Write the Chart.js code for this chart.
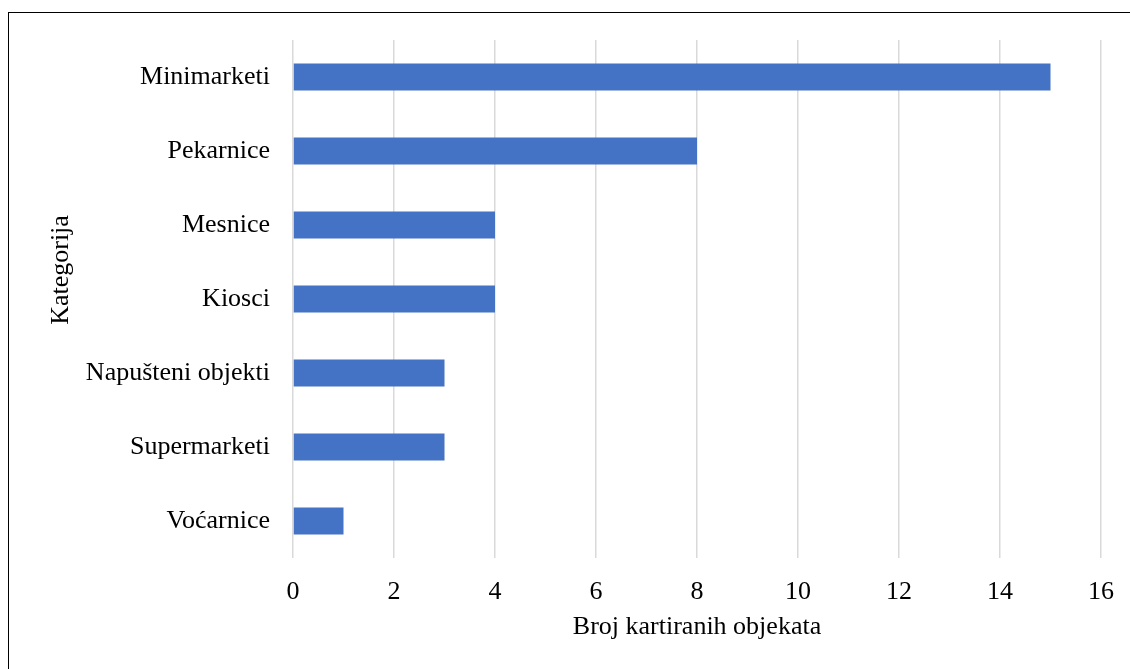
<!DOCTYPE html>
<html>
<head>
<meta charset="utf-8">
<script src="https://cdn.jsdelivr.net/npm/chart.js@4/dist/chart.umd.min.js"></script>
<style>
  body { margin: 0; background: #fff; overflow: hidden; }
  #wrap { position: relative; width: 1130px; height: 669px; }
  #frame { position: absolute; left: 8px; top: 12px; width: 1200px; height: 800px; border: 1.5px solid #000; }
  #chart { position: absolute; left: 0; top: 0; }
</style>
</head>
<body>
<div id="wrap">
  <div id="frame"></div>
  <canvas id="chart" width="1130" height="669"></canvas>
</div>
<script>
// categories and counts, top to bottom
const categories = ['Minimarketi', 'Pekarnice', 'Mesnice', 'Kiosci', 'Napušteni objekti', 'Supermarketi', 'Voćarnice'];
const counts = [15, 8, 4, 4, 3, 3, 1];
const xTicks = [0, 2, 4, 6, 8, 10, 12, 14, 16];

const serif = "'Liberation Serif', 'Times New Roman', serif";
const fontSize = 26;

// vertical axis title, sits a bit above the middle of the plot
const yTitle = {
  id: 'yTitle',
  afterDraw(chart) {
    const c = chart.ctx;
    c.save();
    c.translate(61, 270);
    c.rotate(-Math.PI / 2);
    c.font = fontSize + 'px ' + serif;
    c.fillStyle = '#000';
    c.textAlign = 'center';
    c.textBaseline = 'middle';
    c.fillText('Kategorija', 0, 0);
    c.restore();
  }
};

const ctx = document.getElementById('chart').getContext('2d');
new Chart(ctx, {
  type: 'bar',
  data: {
    labels: categories,
    datasets: [{
      label: 'Broj objekata',
      data: counts,
      backgroundColor: '#4472C4',
      borderWidth: 0,
      barPercentage: 0.365,
      categoryPercentage: 1
    }]
  },
  options: {
    indexAxis: 'y',
    responsive: false,
    animation: false,
    layout: { padding: { left: 0, top: 40, right: 29, bottom: 0 } },
    plugins: {
      legend: { display: false },
      tooltip: { enabled: false }
    },
    scales: {
      x: {
        min: xTicks[0],
        max: xTicks[xTicks.length - 1],
        afterBuildTicks: (scale) => { scale.ticks = xTicks.map(v => ({ value: v })); },
        afterFit: (scale) => {
          scale.height = 111;
          scale.paddingLeft = 0;
          scale.paddingRight = 0;
        },
        grid: { color: '#d9d9d9', lineWidth: 1.5, drawTicks: false },
        border: { display: false },
        ticks: { color: '#000', padding: 19, font: { family: serif, size: fontSize } },
        title: {
          display: true,
          text: 'Broj kartiranih objekata',
          color: '#000',
          font: { family: serif, size: fontSize },
          padding: { top: 0, bottom: 26 }
        }
      },
      y: {
        afterFit: (scale) => { scale.width = 293; },
        grid: { display: false },
        border: { display: false },
        ticks: { color: '#000', padding: 15, font: { family: serif, size: fontSize } }
      }
    }
  },
  plugins: [yTitle]
});
</script>
</body>
</html>
